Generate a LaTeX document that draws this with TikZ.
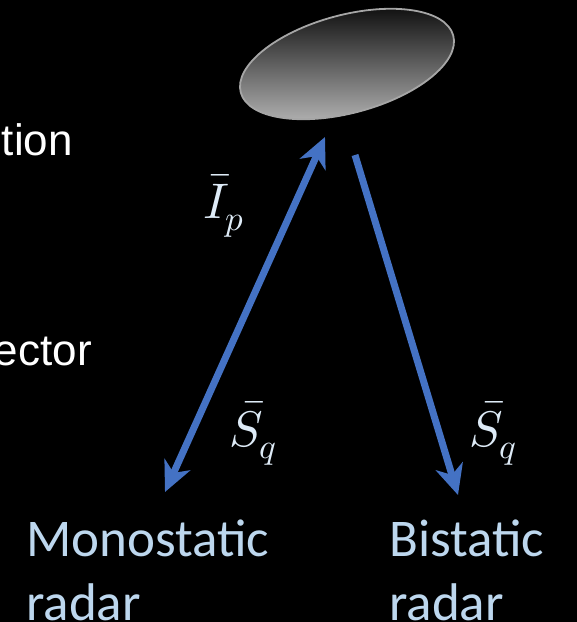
\documentclass[tikz,border=0pt]{standalone}
\usepackage{unicode-math}
\setmathfont{Latin Modern Math}
\usetikzlibrary{arrows.meta,shapes.geometric}
\newfontfamily\labfont{Carlito}
\newfontfamily\leftfont{Liberation Sans}
\definecolor{arrowblue}{HTML}{4472C4}
\definecolor{labblue}{HTML}{BDD7EE}
\definecolor{mathwhite}{HTML}{DEEBF7}
\tikzset{
  radarlabel/.style={anchor=base west, inner sep=0pt, align=left, text=labblue,
    font=\labfont\fontsize{53}{64}\selectfont},
  mathlabel/.style={anchor=base west, inner sep=0pt, text=mathwhite,
    font=\fontsize{50}{60}\selectfont},
  sidetext/.style={anchor=base east, inner sep=0pt, text=white,
    font=\leftfont\fontsize{44}{52}\selectfont},
  wave/.style={draw=arrowblue, line width=7pt},
}
\begin{document}
\begin{tikzpicture}[x=1pt,y=-1pt]
\fill[black] (0,0) rectangle (577,622);
\useasboundingbox (0,0) rectangle (577,622);
% target
\node[ellipse, minimum width=220pt, minimum height=98pt, rotate=15,
  draw=gray!70, line width=1.8pt, top color=black!97, middle color=black!78,
  bottom color=black!28, inner sep=0pt] (target) at (347,64) {};
% side texts
\node[sidetext] (t1) at (73,155) {tion};
\node[sidetext] (t2) at (92,365) {ector};
% endpoints
\coordinate (mtip) at (325,137);
\coordinate (mbot) at (165,492);
\coordinate (bstart) at (355,155);
\coordinate (btip) at (458,495);
\draw[wave, {Stealth[length=30pt,width=28pt,inset=9pt]}-{Stealth[length=30pt,width=28pt,inset=9pt]}] (mbot) -- (mtip);
\draw[wave, -{Stealth[length=30pt,width=28pt,inset=9pt]}] (bstart) -- (btip);
% math labels
\node[mathlabel] (ip) at (203,218) {$\bar{I}_p$};
\node[mathlabel] (sq1) at (229,446) {$\bar{S}_q$};
\node[mathlabel] (sq2) at (469,446) {$\bar{S}_q$};
% radar labels
\node[radarlabel] (mono) at (26,620) {Monostatic\\radar};
\node[radarlabel] (bi) at (389,620) {Bistatic\\radar};
\end{tikzpicture}
\end{document}
